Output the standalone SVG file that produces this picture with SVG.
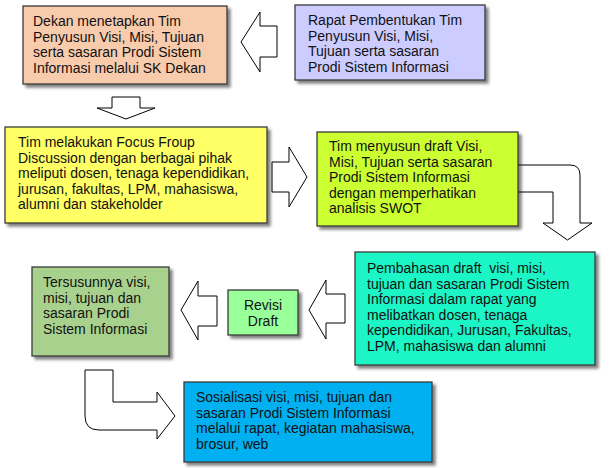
<svg xmlns="http://www.w3.org/2000/svg" width="609" height="468" viewBox="0 0 609 468">
<defs>
<filter id="sh" x="-10%" y="-10%" width="130%" height="130%">
<feGaussianBlur in="SourceAlpha" stdDeviation="1.5"/>
<feOffset dx="3" dy="3" result="b"/>
<feComponentTransfer><feFuncA type="linear" slope="0.5"/></feComponentTransfer>
<feMerge><feMergeNode/><feMergeNode in="SourceGraphic"/></feMerge>
</filter>
</defs>
<style>
.box{stroke:#3a3a3a;stroke-width:1.3;filter:url(#sh)}
.arr{fill:#fff;stroke:#000;stroke-width:1;stroke-linejoin:miter}
text{font-family:"Liberation Sans",Arial,sans-serif;font-size:14px;fill:#111}
</style>
<rect width="609" height="468" fill="#fff"/>
<g id="connectors">
<path class="arr" d="M277,26 L277,57 L260,57 L260,72 L241,42 L260,12 L260,26 Z"/>
<path class="arr" d="M112,97 L140,97 L140,108 L155,108 L126,119 L97,108 L112,108 Z"/>
<path class="arr" d="M272,162 L289,162 L289,147 L307,177 L289,207 L289,192 L272,192 Z"/>
<path class="arr" d="M515,165 L570,165 Q580,165 580,175 L580,223 L592,223 L567.5,240 L543,223 L553,223 L553,192 L515,192 Z"/>
<path class="arr" d="M345,294 L345,323 L326,323 L326,339 L309,310 L326,280 L326,294 Z"/>
<path class="arr" d="M217,296 L217,326 L198,326 L198,340 L181,310 L198,281 L198,296 Z"/>
<path class="arr" d="M85,370 L113,370 L113,402 L157,402 L157,392 L175,416 L157,439 L157,430 L99,430 Q85,430 85,416 Z"/>
</g>
<g id="n1">
<rect class="box" x="23" y="6" width="204" height="78" fill="#F8CBAD"/>
<text x="33" y="26">Dekan menetapkan Tim</text>
<text x="33" y="41.5">Penyusun Visi, Misi, Tujuan</text>
<text x="33" y="57">serta sasaran Prodi Sistem</text>
<text x="33" y="72.5">Informasi melalui SK Dekan</text>
</g>
<g id="n2">
<rect class="box" x="295" y="5" width="190" height="75" fill="#CCCCFF"/>
<text x="308" y="25">Rapat Pembentukan Tim</text>
<text x="308" y="40.5">Penyusun Visi, Misi,</text>
<text x="308" y="56">Tujuan serta sasaran</text>
<text x="308" y="71.5">Prodi Sistem Informasi</text>
</g>
<g id="n3">
<rect class="box" x="5" y="127" width="262" height="96" fill="#FFFF66"/>
<text x="18" y="147">Tim melakukan Focus Froup</text>
<text x="18" y="162.5">Discussion dengan berbagai pihak</text>
<text x="18" y="178">meliputi dosen, tenaga kependidikan,</text>
<text x="18" y="193.5">jurusan, fakultas, LPM, mahasiswa,</text>
<text x="18" y="209">alumni dan stakeholder</text>
</g>
<g id="n4">
<rect class="box" x="317" y="132" width="201" height="94" fill="#CCFF33"/>
<text x="329" y="151">Tim menyusun draft Visi,</text>
<text x="329" y="166.5">Misi, Tujuan serta sasaran</text>
<text x="329" y="182">Prodi Sistem Informasi</text>
<text x="329" y="197.5">dengan memperhatikan</text>
<text x="329" y="213">analisis SWOT</text>
</g>
<g id="n5">
<rect class="box" x="355" y="252" width="240" height="113" fill="#1DF5C5"/>
<text x="367" y="273">Pembahasan draft&#160; visi, misi,</text>
<text x="367" y="288.5">tujuan dan sasaran Prodi Sistem</text>
<text x="367" y="304">Informasi dalam rapat yang</text>
<text x="367" y="319.5">melibatkan dosen, tenaga</text>
<text x="367" y="335">kependidikan, Jurusan, Fakultas,</text>
<text x="367" y="350.5">LPM, mahasiswa dan alumni</text>
</g>
<g id="n6">
<rect class="box" x="228" y="290" width="70" height="45" fill="#99FF99"/>
<text x="263" y="310" text-anchor="middle">Revisi</text>
<text x="263" y="326" text-anchor="middle">Draft</text>
</g>
<g id="n7">
<rect class="box" x="32" y="267" width="137" height="89" fill="#A9D18E"/>
<text x="43" y="287">Tersusunnya visi,</text>
<text x="43" y="302.5">misi, tujuan dan</text>
<text x="43" y="318">sasaran Prodi</text>
<text x="43" y="333.5">Sistem Informasi</text>
</g>
<g id="n8">
<rect class="box" x="184" y="382" width="248" height="80" fill="#00B0F0"/>
<text x="196" y="402">Sosialisasi visi, misi, tujuan dan</text>
<text x="196" y="417.5">sasaran Prodi Sistem Informasi</text>
<text x="196" y="433">melalui rapat, kegiatan mahasiswa,</text>
<text x="196" y="448.5">brosur, web</text>
</g>
</svg>
